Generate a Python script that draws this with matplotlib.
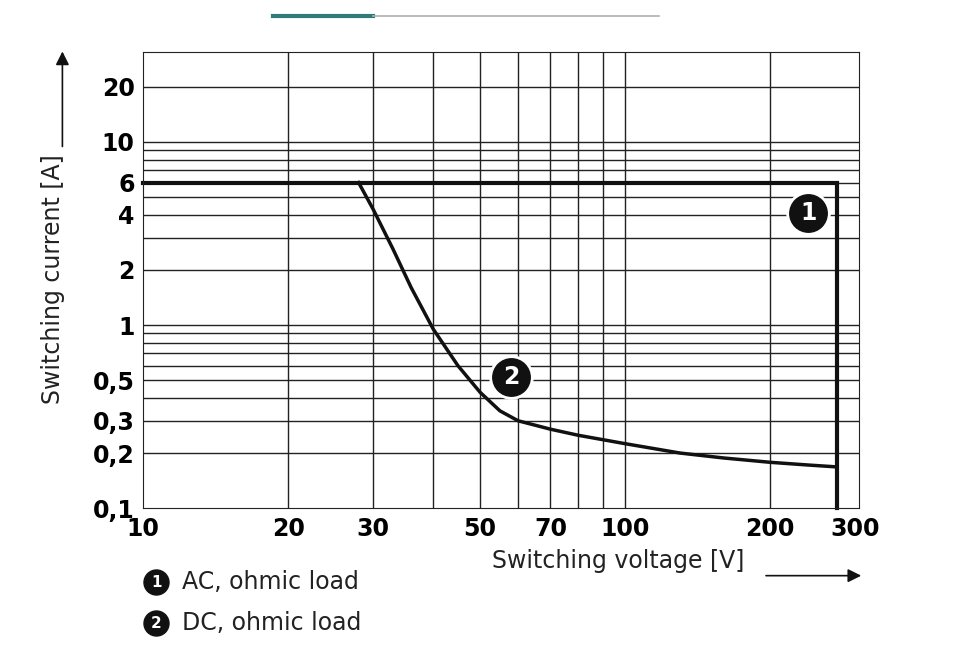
import matplotlib.pyplot as plt
from matplotlib.lines import Line2D

ac_v = [10, 275, 275]
ac_i = [6, 6, 0.1]
dc_v = [28, 30, 33, 36, 40, 45, 50, 55, 60, 70, 80, 100, 130, 160, 200, 240, 275]
dc_i = [6, 4.3, 2.6, 1.6, 0.95, 0.6, 0.43, 0.34, 0.3, 0.27, 0.25, 0.225, 0.2, 0.188, 0.178, 0.172, 0.168]

x_grid = [20, 30, 40, 50, 60, 70, 80, 90, 100, 200]
y_grid = [0.2, 0.3, 0.4, 0.5, 0.6, 0.7, 0.8, 0.9, 1, 2, 3, 4, 5, 6, 7, 8, 9, 10, 20]
x_ticks = [10, 20, 30, 50, 70, 100, 200, 300]
x_labels = ['10', '20', '30', '50', '70', '100', '200', '300']
y_ticks = [0.1, 0.2, 0.3, 0.5, 1, 2, 4, 6, 10, 20]
y_labels = ['0,1', '0,2', '0,3', '0,5', '1', '2', '4', '6', '10', '20']

fig = plt.figure(figsize=(9.6, 6.49), dpi=100)
ax = fig.add_axes([0.149, 0.217, 0.746, 0.703])
ax.set_xscale('log')
ax.set_yscale('log')
ax.set_xlim(10, 306)
ax.set_ylim(0.1, 31)
for x in x_grid:
    ax.axvline(x, color='#222222', lw=1)
for y in y_grid:
    ax.axhline(y, color='#222222', lw=1)
ax.minorticks_off()
ax.set_xticks(x_ticks)
ax.set_xticklabels(x_labels, fontsize=17, fontweight='bold')
ax.set_yticks(y_ticks)
ax.set_yticklabels(y_labels, fontsize=17, fontweight='bold')
ax.tick_params(length=0, pad=6)
for s in ax.spines.values():
    s.set_color('#222222')

ax.plot(ac_v, ac_i, color='#111111', lw=3, solid_joinstyle='miter', clip_on=False)
ax.plot(dc_v, dc_i, color='#111111', lw=2.5)

for (x, y, t) in [(240, 4.1, '1'), (58, 0.52, '2')]:
    ax.plot(x, y, 'o', ms=30, color='#111111', mec='white', mew=2, zorder=5)
    ax.text(x, y, t, color='white', fontsize=17, fontweight='bold', ha='center', va='center', zorder=6)

fig.text(0.055, 0.57, 'Switching current [A]', rotation=90, fontsize=17, ha='center', va='center', color='#222222')
ax.annotate('', xy=(0.065, 0.925), xytext=(0.065, 0.77), xycoords='figure fraction',
            annotation_clip=False,
            arrowprops=dict(arrowstyle='-|>', color='#111111', lw=1.2, mutation_scale=20))
fig.text(0.512, 0.135, 'Switching voltage [V]', fontsize=17, ha='left', va='center', color='#222222')
ax.annotate('', xy=(0.9, 0.113), xytext=(0.795, 0.113), xycoords='figure fraction',
            annotation_clip=False,
            arrowprops=dict(arrowstyle='-|>', color='#111111', lw=1.2, mutation_scale=20))

for yy, t, lab in [(0.103, '1', 'AC, ohmic load'), (0.04, '2', 'DC, ohmic load')]:
    fig.add_artist(Line2D([0.163], [yy], marker='o', ms=18, color='#111111', transform=fig.transFigure))
    fig.text(0.163, yy, t, color='white', fontsize=11, fontweight='bold', ha='center', va='center')
    fig.text(0.19, yy, lab, fontsize=17, ha='left', va='center', color='#222222')

fig.add_artist(Line2D([0.284, 0.389], [0.976, 0.976], color='#2f7a7a', lw=3, transform=fig.transFigure))
fig.add_artist(Line2D([0.389, 0.686], [0.975, 0.975], color='#aab0b0', lw=1.2, transform=fig.transFigure))

fig.savefig('out.png', dpi=100)
